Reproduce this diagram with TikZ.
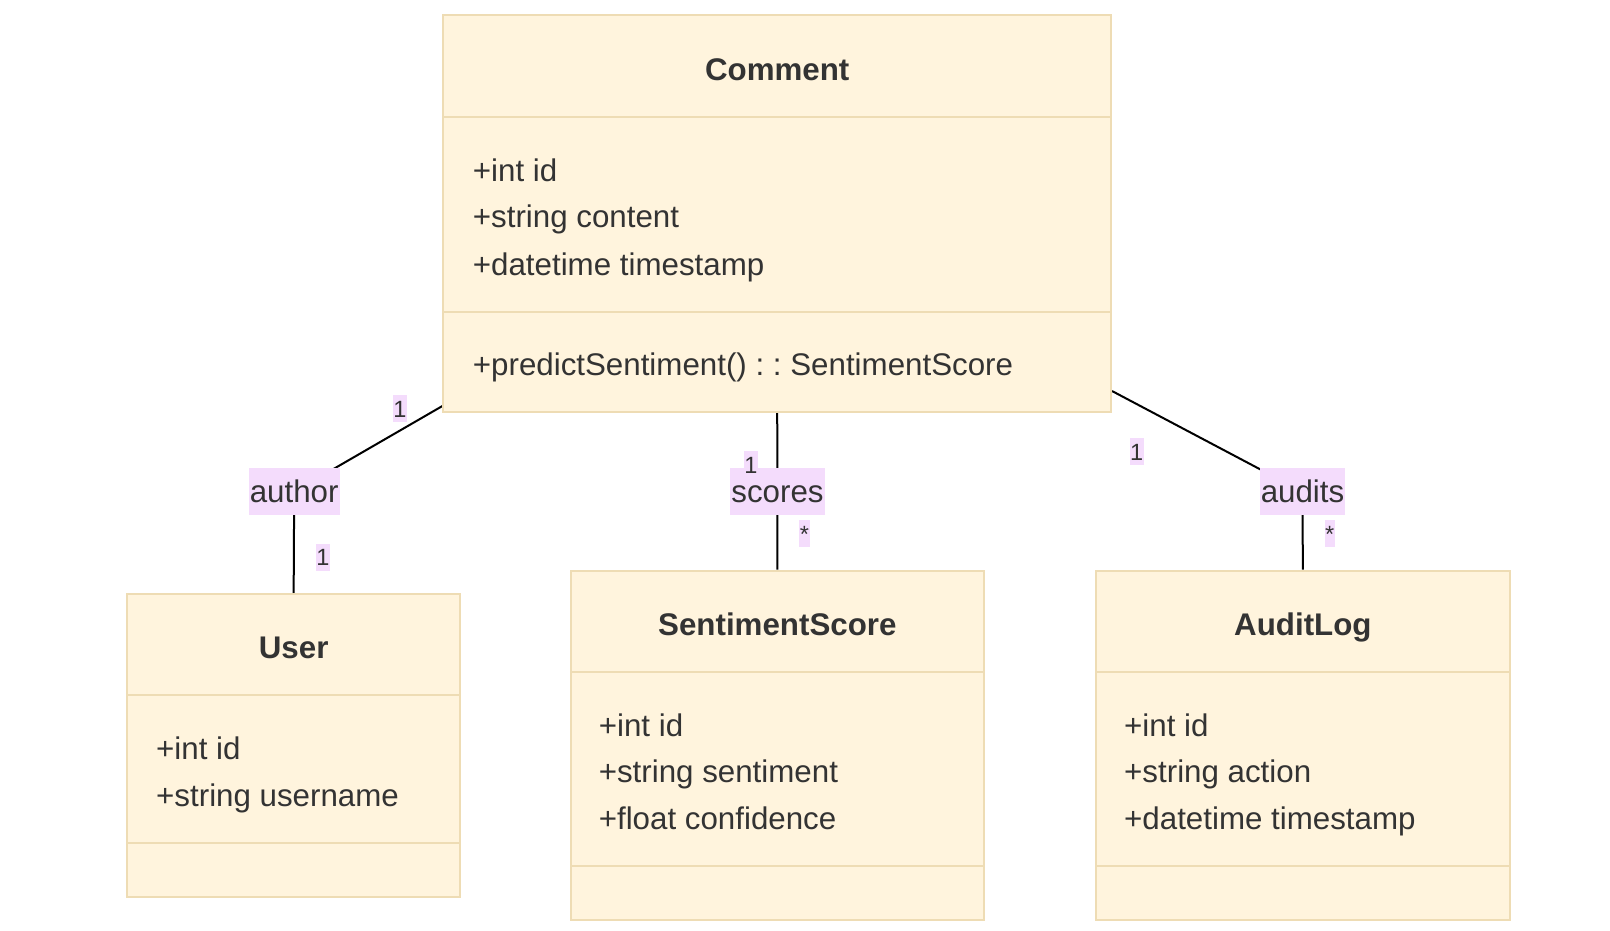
\documentclass[tikz,border=0pt]{standalone}
\usepackage{fontspec}
\setmainfont{Liberation Sans}
\usetikzlibrary{backgrounds}
\definecolor{classfill}{HTML}{FFF4DD}
\definecolor{classline}{HTML}{EEDCB4}
\definecolor{lblfill}{HTML}{F4DCFC}
\definecolor{txt}{HTML}{333333}
\frenchspacing
\begin{document}
\frenchspacing
\begin{tikzpicture}[x=1pt,y=-1pt,
  classbox/.style={draw=classline, fill=classfill, line width=2pt, inner sep=0pt, rectangle},
  classtitle/.style={font=\fontsize{31.3}{36}\selectfont\bfseries, text=txt, inner sep=0pt, text height=22pt, text depth=0pt},
  member/.style={font=\fontsize{31.3}{36}\selectfont, text=txt, inner sep=0pt, anchor=west, text height=22pt, text depth=0pt},
  edgelbl/.style={font=\fontsize{31.3}{36}\selectfont, text=txt, fill=lblfill, inner xsep=1pt, inner ysep=0pt, text height=22pt, text depth=0pt, minimum height=46.7pt},
  mult/.style={font=\fontsize{23.5}{27}\selectfont, text=txt, fill=lblfill, inner xsep=0.5pt, inner ysep=0pt, text height=17pt, text depth=0pt, minimum height=27.3pt},
  assoc/.style={draw=black, line width=2pt},
  divider/.style={draw=classline, line width=2pt}]
\useasboundingbox (0,0) rectangle (1610,930);

% class boxes
\node[classbox, minimum width=667.6pt, minimum height=396.7pt] (comment) at (777.2,213.35) {};
\node[classbox, minimum width=332.7pt, minimum height=302.7pt] (user) at (293.65,745.35) {};
\node[classbox, minimum width=412.7pt, minimum height=349.3pt] (ss) at (777.35,745.35) {};
\node[classbox, minimum width=414.3pt, minimum height=349.3pt] (audit) at (1302.85,745.35) {};

% dividers
\draw[divider] (443.4,116.7) -- (1111,116.7);
\draw[divider] (443.4,311.7) -- (1111,311.7);
\draw[divider] (127.3,695) -- (460,695);
\draw[divider] (127.3,842.7) -- (460,842.7);
\draw[divider] (571,671.7) -- (983.7,671.7);
\draw[divider] (571,866) -- (983.7,866);
\draw[divider] (1095.7,671.7) -- (1510,671.7);
\draw[divider] (1095.7,866) -- (1510,866);

% Comment
\node[classtitle] (tcomment) at (777.2,69) {Comment};
\node[member] (c1) at (472.7,170) {+int id};
\node[member] (c2) at (472.7,216.7) {+string content};
\node[member] (c3) at (472.7,264) {+datetime timestamp};
\node[member] (c4) at (472.7,364.5) {+predictSentiment() : : SentimentScore};

% User
\node[classtitle] (tuser) at (293.65,647.5) {User};
\node[member] (u1) at (156,748.3) {+int id};
\node[member] (u2) at (156,795) {+string username};

% SentimentScore
\node[classtitle] (tss) at (777.35,624.5) {SentimentScore};
\node[member] (s1) at (598.6,725) {+int id};
\node[member] (s2) at (598.6,771.8) {+string sentiment};
\node[member] (s3) at (598.6,818.5) {+float confidence};

% AuditLog
\node[classtitle] (taudit) at (1302.85,624.5) {AuditLog};
\node[member] (a1) at (1124,725) {+int id};
\node[member] (a2) at (1124,771.8) {+string action};
\node[member] (a3) at (1124,818.5) {+datetime timestamp};

% edge labels
\node[edgelbl] (lauthor) at (294.2,491.7) {author};
\node[edgelbl] (lscores) at (777.5,491.7) {scores};
\node[edgelbl] (laudits) at (1302.5,491.7) {audits};

% multiplicities
\node[mult] (m1) at (400,408.7) {1};
\node[mult] (m2) at (323,557.3) {1};
\node[mult] (m3) at (751,464.6) {1};
\node[mult] (m4) at (804.5,533.7) {*};
\node[mult] (m5) at (1136.7,451.7) {1};
\node[mult] (m6) at (1329.8,533.7) {*};

\coordinate (ca) at ([yshift=6.7pt]comment.south west);
\coordinate (cb) at ([yshift=21.7pt]comment.south east);

\begin{scope}[on background layer]
\draw[assoc] (ca) -- (lauthor.center) -- (user.north);
\draw[assoc] (comment.south) -- (lscores.center) -- (ss.north);
\draw[assoc] (cb) -- (laudits.center) -- (audit.north);
\end{scope}
\end{tikzpicture}
\end{document}
